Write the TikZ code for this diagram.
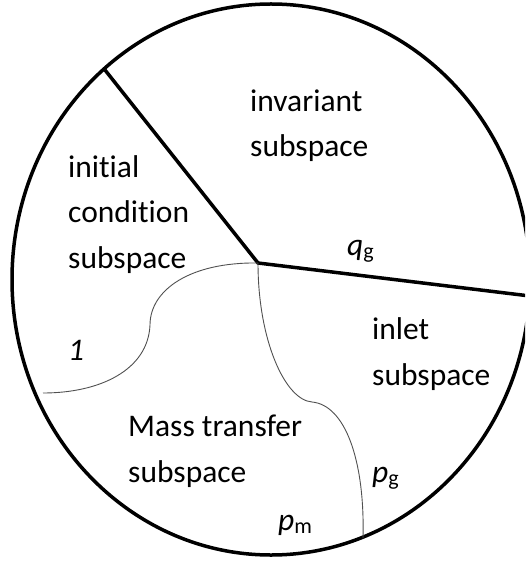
\documentclass[tikz,border=0pt]{standalone}
\usepackage{fontspec}
\setmainfont[Ligatures={NoCommon}]{Carlito}
\usepackage{tikz}
\usetikzlibrary{positioning, calc}
\definecolor{mydark}{RGB}{0,0,0}
\definecolor{myseam}{RGB}{80,80,80}
\tikzset{
  border/.style={line width=3.5pt, color=mydark},
  divide/.style={line width=3.5pt, color=mydark, line join=miter},
  seam/.style={line width=0.9pt, color=myseam},
  region/.style={anchor=base west, align=left, inner sep=0pt,
    font=\fontsize{31.5}{45.5}\selectfont},
  symb/.style={anchor=base west, inner sep=0pt,
    font=\fontsize{31.5}{38}\selectfont}
}
\begin{document}
\begin{tikzpicture}[x=1pt, y=-1pt]
    \clip (0,0) rectangle (525,561);
    \useasboundingbox (0,0) rectangle (525,561);

    % outer boundary
    \draw[border] (271,279.5) ellipse [x radius=259, y radius=275.5];

    % hub and rim points
    \coordinate (hub) at (258,263);
    \coordinate (rimTL) at (105,70);
    \coordinate (rimR) at (530,296);
    \coordinate (rimL) at (43,393);
    \coordinate (rimB) at (363,538);

    % thick dividers
    \draw[divide] (rimTL) -- (hub) -- (rimR);

    % thin seams
    \draw[seam] (hub) .. controls (190,262) and (150,290) .. (150,325)
                      .. controls (148,370) and (100,393) .. (rimL);
    \draw[seam] (hub) .. controls (258,340) and (285,400) .. (312,402)
                      .. controls (345,405) and (365,460) .. (rimB);

    % region names (anchored at the last line)
    \node[region] (invar) at (250,157) {invariant\\subspace};
    \node[region] (initc) at (68,268) {initial\\condition\\subspace};
    \node[region] (inlet) at (372,385) {inlet\\subspace};
    \node[region] (mtran) at (128,482) {Mass transfer\\subspace};

    % symbols
    \node[symb] (qg) at (347,255) {\textit{q}\textsubscript{g}};
    \node[symb] (one) at (68,360) {\textit{1}};
    \node[symb] (pg) at (372,482) {\textit{p}\textsubscript{g}};
    \node[symb] (pm) at (278,530) {\textit{p}\textsubscript{m}};
\end{tikzpicture}
\end{document}
